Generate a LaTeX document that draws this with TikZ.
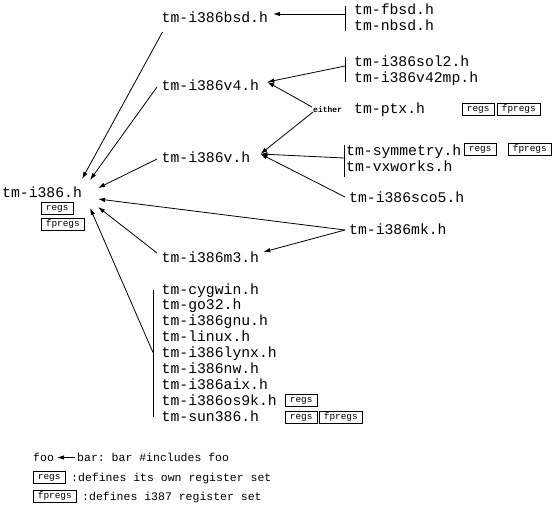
\documentclass[tikz,border=0pt]{standalone}
\usepackage{fontspec}
\setmonofont{Liberation Mono}
\usetikzlibrary{arrows.meta}
\begin{document}
\begin{tikzpicture}[x=1pt,y=-1pt,
  file/.style={font=\ttfamily\fontsize{14.75}{16}\selectfont, inner sep=0pt, anchor=base west},
  leg/.style={font=\ttfamily\fontsize{11.5}{13}\selectfont, inner sep=0pt, anchor=base west},
  tag/.style={draw, line width=0.8pt, font=\ttfamily\fontsize{9.4}{10}\selectfont, inner xsep=4.5pt, inner ysep=2pt, text height=6.5pt, text depth=1.5pt, anchor=north west},
  inc/.style={line width=0.8pt, -{Latex[length=7pt,width=4.5pt]}},
  bar/.style={line width=0.8pt},
  tinytxt/.style={font=\ttfamily\bfseries\fontsize{8}{9}\selectfont, inner sep=0pt, anchor=base west}
]
\useasboundingbox (0,0) rectangle (554,507);

% left column
\node[file] (i386) at (2,197) {tm-i386.h};
\node[tag] (i386regs) at (41,202) {regs};
\node[tag] (i386fp) at (41,218) {fpregs};

\node[file] (bsd) at (161.5,22) {tm-i386bsd.h};
\node[file] (v4) at (161.5,90) {tm-i386v4.h};
\node[file] (v) at (161.5,162) {tm-i386v.h};
\node[file] (m3) at (161.5,262) {tm-i386m3.h};

% right column
\node[file] (fbsd) at (354,14) {tm-fbsd.h};
\node[file] (nbsd) at (354,30) {tm-nbsd.h};
\node[file] (sol2) at (354,66) {tm-i386sol2.h};
\node[file] (v42mp) at (354,82) {tm-i386v42mp.h};
\node[tinytxt] (either) at (313,112) {either};
\node[file] (ptx) at (354,113) {tm-ptx.h};
\node[tag] (ptxregs) at (462,103) {regs};
\node[tag] (ptxfp) at (497,103) {fpregs};
\node[file] (sym) at (346,155) {tm-symmetry.h};
\node[file] (vxw) at (346,171) {tm-vxworks.h};
\node[tag] (symregs) at (464,143) {regs};
\node[tag] (symfp) at (508,143) {fpregs};
\node[file] (sco5) at (349,202) {tm-i386sco5.h};
\node[file] (mk) at (349,234) {tm-i386mk.h};

% group
\node[file] (cygwin) at (161.5,294) {tm-cygwin.h};
\node[file] (go32) at (161.5,309.9) {tm-go32.h};
\node[file] (gnu) at (161.5,325.75) {tm-i386gnu.h};
\node[file] (linux) at (161.5,341.6) {tm-linux.h};
\node[file] (lynx) at (161.5,357.5) {tm-i386lynx.h};
\node[file] (nw) at (161.5,373.4) {tm-i386nw.h};
\node[file] (aix) at (161.5,389.25) {tm-i386aix.h};
\node[file] (os9k) at (161.5,405.1) {tm-i386os9k.h};
\node[file] (sun) at (161.5,421) {tm-sun386.h};
\node[tag] (os9kregs) at (285,394) {regs};
\node[tag] (sunregs) at (285,411) {regs};
\node[tag] (sunfp) at (319,411) {fpregs};

% bars
\draw[bar] ([shift={(-9,-8)}]fbsd.base west) -- ([shift={(-9,1)}]nbsd.base west);
\draw[bar] ([shift={(-9,-9)}]sol2.base west) -- ([shift={(-9,0)}]v42mp.base west);
\draw[bar] ([shift={(-2,-10)}]sym.base west) -- ([shift={(-2,6)}]vxw.base west);
\draw[bar] ([shift={(-8.5,-4)}]cygwin.base west) -- ([shift={(-8.5,-4)}]sun.base west);

% includes
\draw[inc] ([shift={(-9,0)}]fbsd.base west) -- ([shift={(5,-8)}]bsd.base east);
\draw[inc] ([shift={(-9,0)}]sol2.base west) -- ([shift={(8,-8)}]v4.base east);
\draw[inc] ([shift={(-1,-5)}]either.base west) -- ([shift={(8,-8)}]v4.base east);
\draw[inc] ([shift={(0,0)}]either.base west) -- ([shift={(10,-8)}]v.base east);
\draw[inc] ([shift={(-2,3)}]sym.base west) -- ([shift={(10,-8)}]v.base east);
\draw[inc] ([shift={(-4,-5)}]sco5.base west) -- ([shift={(10,-8)}]v.base east);
\draw[inc] ([shift={(-4,-4)}]mk.base west) -- ([shift={(16,2)}]i386.base east);
\draw[inc] ([shift={(-4,-4)}]mk.base west) -- ([shift={(4,-10)}]m3.base east);
\draw[inc] ([shift={(1,10)}]bsd.base west) -- ([shift={(0,-18)}]i386.base east);
\draw[inc] ([shift={(-4.5,-3)}]v4.base west) -- ([shift={(8,-17)}]i386.base east);
\draw[inc] ([shift={(-4.5,-3)}]v.base west) -- ([shift={(16,-9)}]i386.base east);
\draw[inc] ([shift={(-4.5,-9)}]m3.base west) -- ([shift={(16,10)}]i386.base east);
\draw[inc] ([shift={(-8.5,-5)}]lynx.base west) -- ([shift={(8,11)}]i386.base east);

% legend
\node[leg] (foo) at (33,461) {foo};
\node[leg] (barl) at (77,461) {bar: bar \#includes foo};
\draw[inc] ([shift={(-2,-3.5)}]barl.base west) -- ([shift={(3,-3.5)}]foo.base east);
\node[tag] (legregs) at (33,471) {regs};
\node[leg] (legregstxt) at (71,481) {:defines its own register set};
\node[tag] (legfp) at (33,490) {fpregs};
\node[leg] (legfptxt) at (82,500) {:defines i387 register set};
\end{tikzpicture}
\end{document}
